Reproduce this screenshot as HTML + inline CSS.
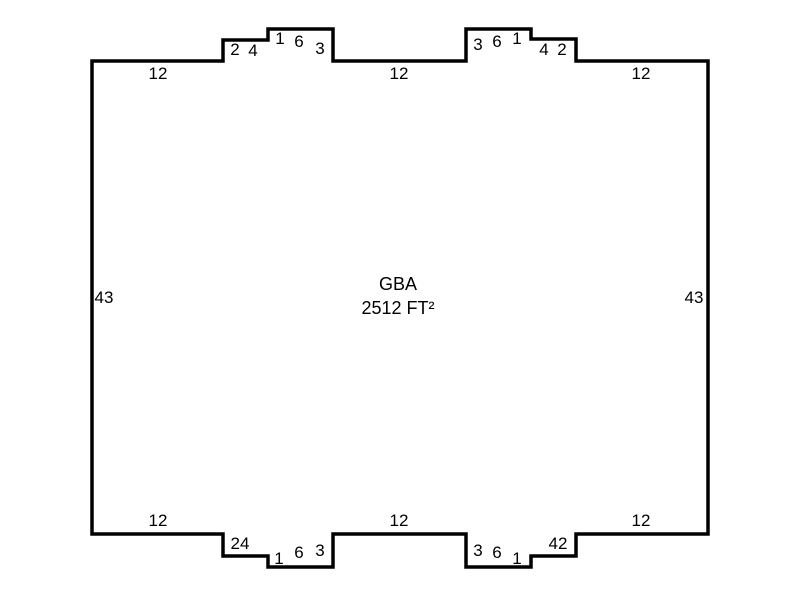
<!DOCTYPE html>
<html><head><style>body{margin:0;background:#fff}svg{display:block}text{font-family:"Liberation Sans",sans-serif;font-size:17px;fill:#000;text-anchor:middle}</style></head>
<body><svg width="800" height="600" viewBox="0 0 800 600">
<path d="M92 61 H223 V40 H268 V29 H333 V61 H466 V29 H531 V39 H576 V61 H708 V534 H576 V556 H531 V567 H466 V534 H333 V567 H268 V556 H223 V534 H92 Z" fill="none" stroke="#000" stroke-width="3.5"/>
<text x="158" y="79">12</text><text x="399" y="79">12</text><text x="641" y="79">12</text>
<text x="235" y="55">2</text><text x="253" y="56">4</text><text x="280" y="44">1</text><text x="299" y="47">6</text><text x="320" y="54">3</text>
<text x="478" y="50">3</text><text x="497" y="47">6</text><text x="517" y="44">1</text><text x="544" y="55">4</text><text x="562" y="55">2</text>
<text x="104" y="303">43</text><text x="694" y="303">43</text>
<text x="398" y="290" style="font-size:18px">GBA</text><text x="398" y="314" style="font-size:18px">2512 FT²</text>
<text x="158" y="526">12</text><text x="399" y="526">12</text><text x="641" y="526">12</text>
<text x="240" y="549">24</text><text x="279" y="564">1</text><text x="299" y="558">6</text><text x="320" y="556">3</text>
<text x="478" y="556">3</text><text x="497" y="558">6</text><text x="517" y="564">1</text><text x="558" y="549">42</text>
</svg></body></html>
